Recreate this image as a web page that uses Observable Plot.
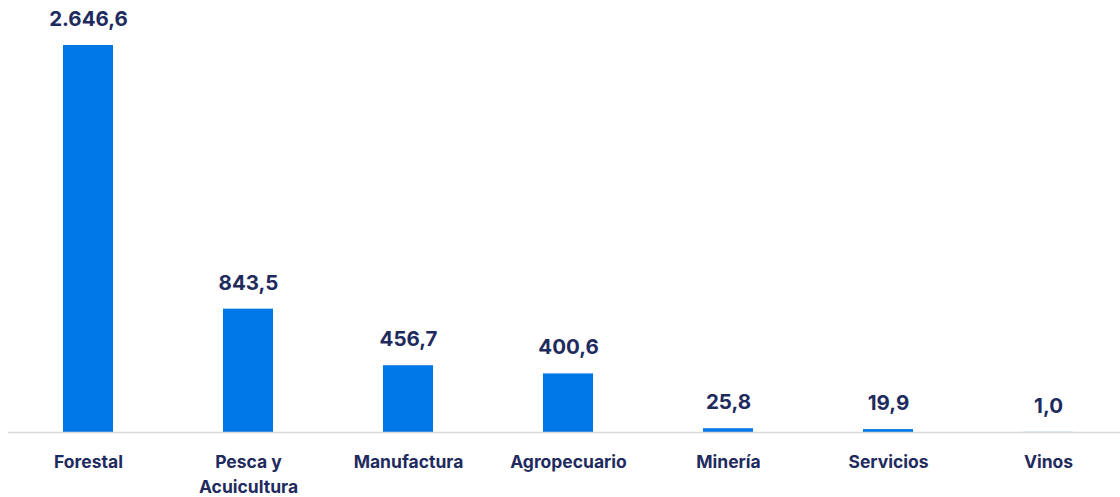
<!DOCTYPE html>
<html>
<head>
<meta charset="utf-8">
<script src="https://cdn.jsdelivr.net/npm/d3@7"></script>
<script src="https://cdn.jsdelivr.net/npm/@observablehq/plot@0.6"></script>
<style>
  html, body { margin: 0; padding: 0; background: #fff; }
  #chart svg { display: block; }
</style>
</head>
<body>
<div id="chart"></div>
<script>
const categories = ["Forestal", "Pesca y\nAcuicultura", "Manufactura", "Agropecuario", "Minería", "Servicios", "Vinos"];
const values = [2646.6, 843.5, 456.7, 400.6, 25.8, 19.9, 1.0];
const valueLabels = ["2.646,6", "843,5", "456,7", "400,6", "25,8", "19,9", "1,0"];

const data = categories.map((c, i) => ({category: c, value: values[i], label: valueLabels[i]}));

const navy = "#1f2b5e";
const blue = "#0077e6";
const font = "Inter, 'Noto Sans', sans-serif";

const chart = Plot.plot({
  width: 1120,
  height: 497,
  marginTop: 45,
  marginBottom: 65,
  marginLeft: 8,
  marginRight: 0,
  style: {fontFamily: font, background: "#fff"},
  x: {domain: categories, paddingInner: 0.6875, paddingOuter: 0.31875, align: 0.539, axis: null},
  y: {domain: [0, 2646.6], axis: null},
  marks: [
    Plot.barY(data, {x: "category", y: "value", fill: blue}),
    Plot.ruleY([0], {stroke: "#d9d9d9", strokeWidth: 1.5}),
    Plot.text(data, {x: "category", y: "value", text: "label", dy: -26, fill: navy, fontSize: 20.5, fontWeight: 700}),
    Plot.text(data, {x: "category", y: 0, text: "category", lineAnchor: "top", dy: 18, lineHeight: 1.42, fill: navy, fontSize: 17.5, fontWeight: 700})
  ]
});
document.getElementById("chart").appendChild(chart);
</script>
</body>
</html>
